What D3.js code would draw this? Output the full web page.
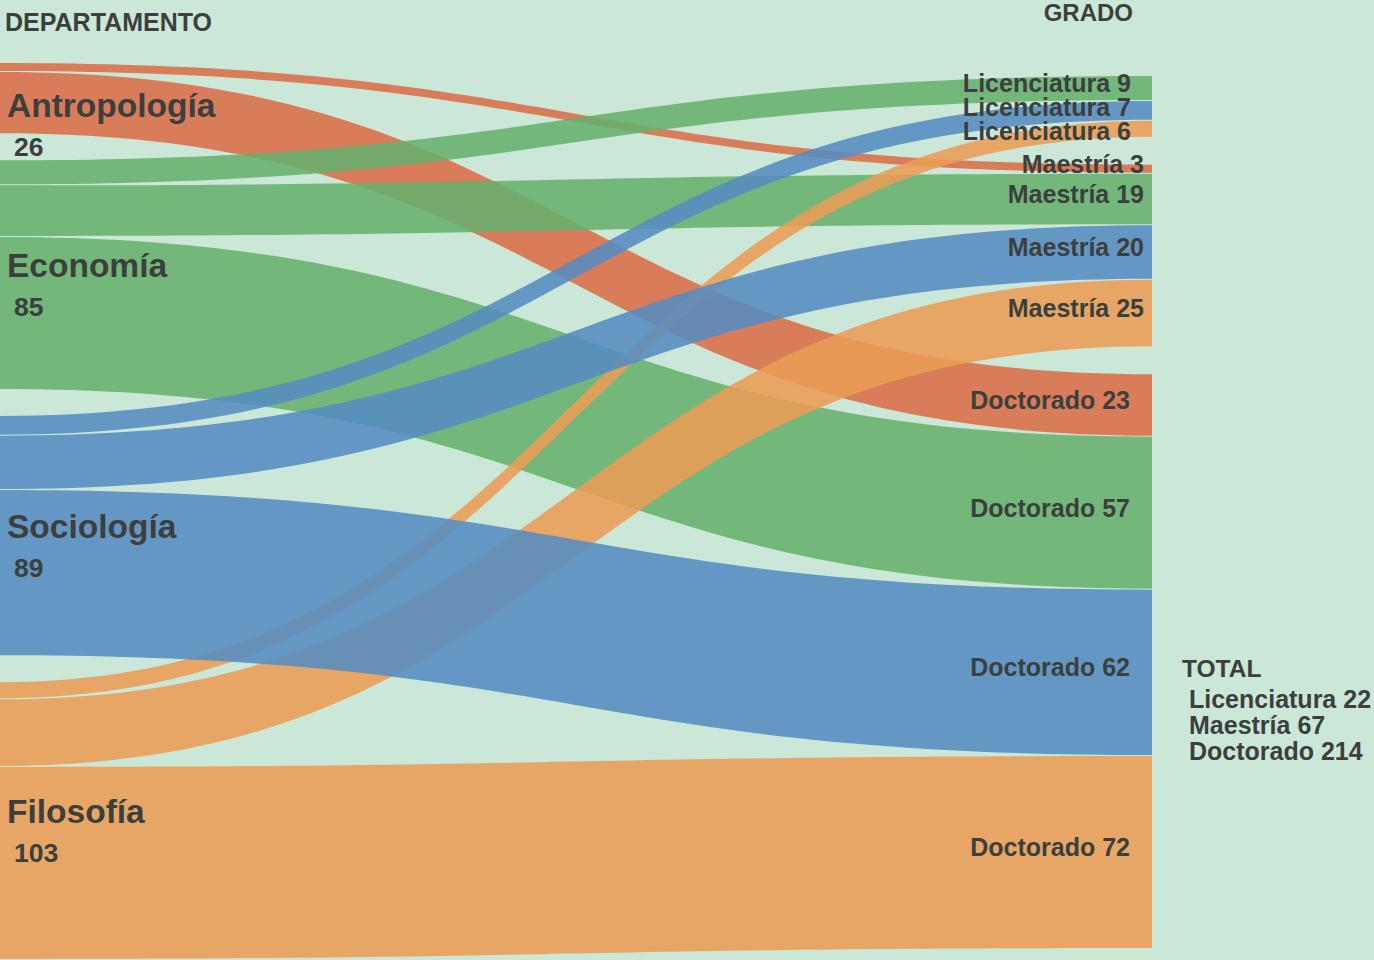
<!DOCTYPE html>
<html>
<head>
<meta charset="utf-8">
<script src="https://cdn.jsdelivr.net/npm/d3@7"></script>
<style>
  html, body { margin: 0; padding: 0; background: #cbe7d7; }
  svg { display: block; }
  text { font-family: "Liberation Sans", Arial, Helvetica, sans-serif; font-weight: bold; fill: #3b3f3d; }
</style>
</head>
<body>
<svg width="1374" height="960"></svg>
<script>
// departamentos (izquierda) y grados (derecha)
var departamentos = ["Antropología", "Economía", "Sociología", "Filosofía"];
var grados = ["Licenciatura", "Maestría", "Doctorado"];
// alumnos por grado, en el orden de departamentos
var licenciatura = [0, 9, 7, 6];
var maestria = [3, 19, 20, 25];
var doctorado = [23, 57, 62, 72];
var colores = ["#db6d49", "#68b06e", "#568cc1", "#ea9d55"];

document.addEventListener('DOMContentLoaded', function() {
  var svg = d3.select("svg"),
      width = 1374,
      height = 960;

  var series = [licenciatura, maestria, doctorado];
  var porDepto = departamentos.map(function(d, i) {
    return d3.sum(series, function(s) { return s[i]; });
  });
  var porGrado = series.map(function(s) { return d3.sum(s); });
  var total = d3.sum(porDepto);

  var xLeft = 0, xRight = 1152;
  var padL = 27, padR = 28, gap = 1;
  var leftTop = 63, rightTop = 76, rightBottom = 948;

  // links, one per departamento x grado
  var links = [];
  departamentos.forEach(function(d, i) {
    grados.forEach(function(g, j) {
      if (series[j][i] > 0) links.push({ dep: i, grado: j, value: series[j][i] });
    });
  });
  var nGapsRight = links.length - grados.length;
  var k = (rightBottom - rightTop - padR * (grados.length - 1) - gap * nGapsRight) / total;
  var h = d3.scaleLinear().domain([0, total]).range([0, total * k]);

  // left stacking
  var nodos = [];
  var y = leftTop;
  departamentos.forEach(function(d, i) {
    var top = y;
    links.filter(function(l) { return l.dep === i; }).forEach(function(l) {
      l.sy0 = y; y += h(l.value); l.sy1 = y; y += gap;
    });
    y -= gap;
    nodos.push({ name: d, value: porDepto[i], y0: top, y1: y });
    y += padL;
  });

  // right stacking
  var derecha = [];
  y = rightTop;
  grados.forEach(function(g, j) {
    links.filter(function(l) { return l.grado === j; }).forEach(function(l) {
      l.ty0 = y; y += h(l.value); l.ty1 = y; y += gap;
      derecha.push(l);
    });
    y = y - gap + padR;
  });

  function ribbon(l) {
    var p = d3.path(), xm = (xLeft + xRight) / 2;
    p.moveTo(xLeft, l.sy0);
    p.bezierCurveTo(xm, l.sy0, xm, l.ty0, xRight, l.ty0);
    p.lineTo(xRight, l.ty1);
    p.bezierCurveTo(xm, l.ty1, xm, l.sy1, xLeft, l.sy1);
    p.closePath();
    return p.toString();
  }

  svg.append("rect").attr("width", width).attr("height", height).attr("fill", "#cbe7d7");

  var capa = [0, 1, 3, 2];
  var ordenados = links.slice().sort(function(a, b) { return capa.indexOf(a.dep) - capa.indexOf(b.dep); });

  svg.append("g").selectAll("path")
    .data(ordenados)
    .enter().append("path")
    .attr("d", ribbon)
    .attr("fill", function(d) { return colores[d.dep]; })
    .attr("fill-opacity", 0.88);

  // right labels: baseline near band centre, pushed down so thin bands don't pile up
  var ultimo = -Infinity;
  derecha.forEach(function(l) {
    l.ly = Math.max((l.ty0 + l.ty1) / 2 + 4, ultimo + 24);
    ultimo = l.ly;
  });
  var finX = [1131, 1144, 1130];
  svg.append("g").selectAll("text")
    .data(derecha)
    .enter().append("text")
    .attr("x", function(d) { return finX[d.grado]; })
    .attr("y", function(d) { return d.ly; })
    .attr("text-anchor", "end")
    .attr("font-size", "25px")
    .text(function(d) { return grados[d.grado] + " " + d.value; });

  // left labels
  var izq = svg.append("g").selectAll("g").data(nodos).enter().append("g");
  izq.append("text")
    .attr("x", 7)
    .attr("y", function(d) { return Math.max(d.y0 + 54, (d.y0 + d.y1) / 2 + 2); })
    .attr("font-size", "33.5px")
    .text(function(d) { return d.name; });
  izq.append("text")
    .attr("x", 14)
    .attr("y", function(d) { return Math.max(d.y0 + 54, (d.y0 + d.y1) / 2 + 2) + 39; })
    .attr("font-size", "26.5px")
    .text(function(d) { return d.value; });

  svg.append("text").attr("x", 5).attr("y", 31).attr("font-size", "25px").text("DEPARTAMENTO");
  svg.append("text").attr("x", 1133).attr("y", 21).attr("text-anchor", "end").attr("font-size", "24px").text("GRADO");

  svg.append("text").attr("x", 1182).attr("y", 677).attr("font-size", "24.5px").text("TOTAL");
  svg.append("g").selectAll("text")
    .data(grados)
    .enter().append("text")
    .attr("x", 1189)
    .attr("y", function(d, i) { return 708 + i * 26; })
    .attr("font-size", "25px")
    .text(function(d, i) { return d + " " + porGrado[i]; });
});
</script>
</body>
</html>
